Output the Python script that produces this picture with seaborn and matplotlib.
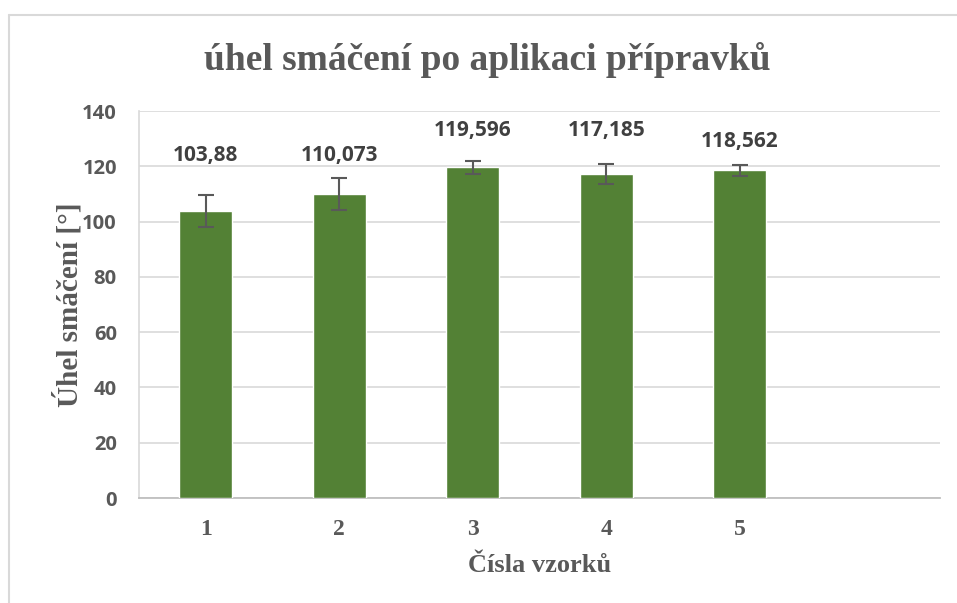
import matplotlib
matplotlib.use('Agg')
import matplotlib.pyplot as plt
import pandas as pd
import seaborn as sns

# data
samples = ['1', '2', '3', '4', '5']
angle = [103.88, 110.073, 119.596, 117.185, 118.562]
angle_err = [5.7, 5.8, 2.4, 3.5, 2.0]
labels = ['103,88', '110,073', '119,596', '117,185', '118,562']
label_y = [124.0, 124.0, 132.8, 132.8, 128.8]
y_ticks = [0, 20, 40, 60, 80, 100, 120, 140]

df = pd.DataFrame({'sample': samples, 'angle': angle})

sns.set_theme(style='white')
plt.rcParams['font.family'] = ['Open Sans', 'DejaVu Sans']

gray = '#595959'
fig = plt.figure(figsize=(9.57, 6.03), dpi=100)
ax = fig.add_axes([139 / 957, 1 - 498 / 603, (940 - 139) / 957, (498 - 111) / 603])

sns.barplot(data=df, x='sample', y='angle', color='#538135', width=0.4,
            saturation=1, errorbar=None, ax=ax, zorder=3)
ax.errorbar(range(len(samples)), angle, yerr=angle_err, fmt='none',
            ecolor=gray, elinewidth=1.5, capsize=6, capthick=1.5, zorder=4)

for i, (lab, y) in enumerate(zip(labels, label_y)):
    ax.text(i, y, lab, ha='center', va='center', fontsize=15,
            fontweight='bold', color='#404040')

ax.set_xlim(-0.5, 5.5)
ax.set_ylim(0, 140)
ax.set_yticks(y_ticks)
ax.set_xticks(range(len(samples)))
ax.set_xticklabels(samples, family='Liberation Serif', fontsize=17,
                   fontweight='bold', color=gray)
for t in ax.get_yticklabels():
    t.set_fontsize(14.5)
    t.set_fontweight('bold')
    t.set_color(gray)
ax.tick_params(axis='x', length=0, pad=15)
ax.tick_params(axis='y', length=0, pad=16)
ax.yaxis.grid(True, color='#d9d9d9', linewidth=1.2, zorder=0)
ax.set_axisbelow(True)

for s in ['top', 'right']:
    ax.spines[s].set_visible(False)
ax.spines['bottom'].set_color('#bfbfbf')
ax.spines['bottom'].set_linewidth(1.3)
ax.spines['left'].set_color('#d9d9d9')
ax.spines['left'].set_linewidth(1.2)

ax.set_xlabel('Čísla vzorků', family='Liberation Serif', fontsize=19,
              fontweight='bold', color=gray, labelpad=10)
ax.set_ylabel('Úhel smáčení [°]', family='Liberation Serif', fontsize=21,
              fontweight='bold', color=gray, labelpad=-1)
fig.text(487 / 957, 1 - 60 / 603, 'úhel smáčení po aplikaci přípravků',
         family='Liberation Serif', fontsize=27, fontweight='bold',
         color=gray, ha='center', va='center')

# chart border
fig.add_artist(plt.Line2D([8.5 / 957, 8.5 / 957], [0, 1 - 14.5 / 603],
                          transform=fig.transFigure, color='#d9d9d9', lw=1.5))
fig.add_artist(plt.Line2D([8.5 / 957, 1], [1 - 14.5 / 603, 1 - 14.5 / 603],
                          transform=fig.transFigure, color='#d9d9d9', lw=1.5))

fig.savefig('out.png', dpi=100)
